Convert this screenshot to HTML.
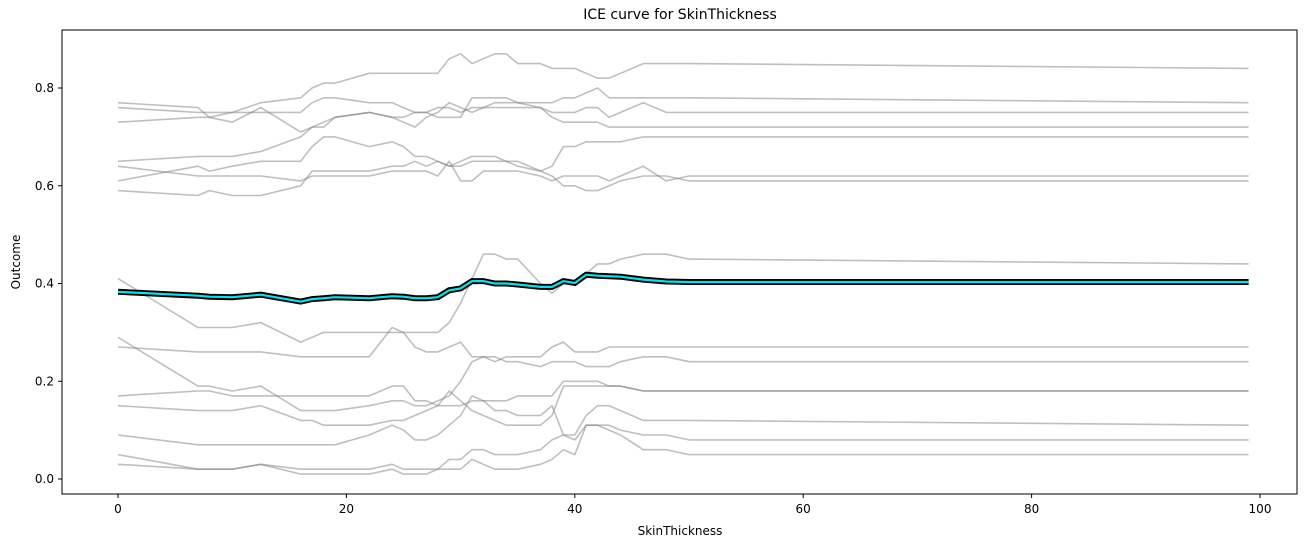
<!DOCTYPE html>
<html><head><meta charset="utf-8"><style>
body{margin:0;background:#fff;font-family:"Liberation Sans","DejaVu Sans",sans-serif;}
svg text{font-family:"DejaVu Sans","Liberation Sans",sans-serif;fill:#000;}
</style></head><body>
<svg id="chart" width="1314" height="547" xmlns="http://www.w3.org/2000/svg">
<rect x="0" y="0" width="1314" height="547" fill="#fff"/>
<text x="680" y="19" font-size="14" text-anchor="middle">ICE curve for SkinThickness</text>
<g id="lines"></g>
<g id="axes"></g>
<rect x="62" y="30" width="1235" height="464" fill="none" stroke="#000" stroke-width="1"/>
<text x="680" y="535" font-size="12" text-anchor="middle">SkinThickness</text>
<text x="20" y="262" font-size="12" text-anchor="middle" transform="rotate(-90 20 262)">Outcome</text>
</svg>
<script>
const xGrid=[0,7,8,10,12.5,16,17,18,19,22,24,25,26,27,28,29,30,31,32,33,34,35,37,38,39,40,41,42,43,44,46,48,50,99];
const lineA=[0.77,0.76,0.74,0.75,0.77,0.78,0.80,0.81,0.81,0.83,0.83,0.83,0.83,0.83,0.83,0.86,0.87,0.85,0.86,0.87,0.87,0.85,0.85,0.84,0.84,0.84,0.83,0.82,0.82,0.83,0.85,0.85,0.85,0.84];
const lineB=[0.76,0.75,0.75,0.75,0.75,0.75,0.77,0.78,0.78,0.77,0.77,0.76,0.75,0.75,0.74,0.74,0.74,0.78,0.78,0.78,0.78,0.77,0.77,0.77,0.78,0.78,0.79,0.80,0.78,0.78,0.78,0.78,0.78,0.77];
const lineC=[0.73,0.74,0.74,0.73,0.76,0.71,0.72,0.72,0.74,0.75,0.74,0.73,0.72,0.74,0.75,0.77,0.76,0.75,0.76,0.77,0.77,0.77,0.76,0.75,0.75,0.75,0.76,0.76,0.74,0.75,0.77,0.75,0.75,0.75];
const lineD=[0.65,0.66,0.66,0.66,0.67,0.70,0.72,0.73,0.74,0.75,0.74,0.74,0.75,0.75,0.76,0.76,0.75,0.76,0.76,0.76,0.76,0.76,0.76,0.74,0.73,0.73,0.73,0.73,0.72,0.72,0.72,0.72,0.72,0.72];
const lineE=[0.61,0.64,0.63,0.64,0.65,0.65,0.68,0.70,0.70,0.68,0.69,0.68,0.66,0.66,0.65,0.64,0.64,0.65,0.65,0.65,0.65,0.64,0.63,0.64,0.68,0.68,0.69,0.69,0.69,0.69,0.70,0.70,0.70,0.70];
const lineF=[0.64,0.62,0.62,0.62,0.62,0.61,0.62,0.62,0.62,0.62,0.63,0.63,0.63,0.63,0.62,0.65,0.61,0.61,0.63,0.63,0.63,0.63,0.62,0.61,0.62,0.62,0.62,0.62,0.61,0.62,0.64,0.61,0.62,0.62];
const lineG=[0.59,0.58,0.59,0.58,0.58,0.60,0.63,0.63,0.63,0.63,0.64,0.64,0.65,0.64,0.65,0.64,0.65,0.66,0.66,0.66,0.65,0.65,0.63,0.62,0.60,0.60,0.59,0.59,0.60,0.61,0.62,0.62,0.61,0.61];
const lineH=[0.41,0.31,0.31,0.31,0.32,0.28,0.29,0.30,0.30,0.30,0.30,0.30,0.30,0.30,0.30,0.32,0.36,0.41,0.46,0.46,0.45,0.45,0.40,0.38,0.40,0.40,0.42,0.44,0.44,0.45,0.46,0.46,0.45,0.44];
const lineI=[0.27,0.26,0.26,0.26,0.26,0.25,0.25,0.25,0.25,0.25,0.31,0.30,0.27,0.26,0.26,0.27,0.28,0.25,0.25,0.24,0.25,0.25,0.25,0.27,0.28,0.26,0.26,0.26,0.27,0.27,0.27,0.27,0.27,0.27];
const lineJ=[0.29,0.19,0.19,0.18,0.19,0.14,0.14,0.14,0.14,0.15,0.16,0.16,0.15,0.15,0.16,0.17,0.20,0.24,0.25,0.25,0.24,0.24,0.23,0.24,0.24,0.24,0.23,0.23,0.23,0.24,0.25,0.25,0.24,0.24];
const lineK=[0.17,0.18,0.18,0.17,0.17,0.17,0.17,0.17,0.17,0.17,0.19,0.19,0.16,0.16,0.15,0.15,0.15,0.16,0.16,0.16,0.16,0.17,0.17,0.17,0.20,0.20,0.20,0.20,0.19,0.19,0.18,0.18,0.18,0.18];
const lineL=[0.15,0.14,0.14,0.14,0.15,0.12,0.12,0.11,0.11,0.11,0.12,0.12,0.13,0.14,0.15,0.18,0.16,0.14,0.13,0.12,0.11,0.11,0.11,0.13,0.19,0.19,0.19,0.19,0.19,0.19,0.18,0.18,0.18,0.18];
const lineM=[0.09,0.07,0.07,0.07,0.07,0.07,0.07,0.07,0.07,0.09,0.11,0.10,0.08,0.08,0.09,0.11,0.13,0.17,0.16,0.14,0.14,0.13,0.13,0.15,0.09,0.09,0.13,0.15,0.15,0.14,0.12,0.12,0.12,0.11];
const lineN=[0.05,0.02,0.02,0.02,0.03,0.02,0.02,0.02,0.02,0.02,0.03,0.02,0.02,0.02,0.02,0.04,0.04,0.06,0.06,0.05,0.05,0.05,0.06,0.08,0.09,0.08,0.11,0.11,0.11,0.10,0.09,0.09,0.08,0.08];
const lineO=[0.03,0.02,0.02,0.02,0.03,0.01,0.01,0.01,0.01,0.01,0.02,0.01,0.01,0.01,0.02,0.02,0.02,0.04,0.03,0.02,0.02,0.02,0.03,0.04,0.06,0.05,0.11,0.11,0.10,0.09,0.06,0.06,0.05,0.05];
const meanLine=[0.383,0.375,0.373,0.372,0.377,0.363,0.368,0.370,0.372,0.370,0.374,0.373,0.370,0.370,0.372,0.386,0.390,0.405,0.405,0.400,0.400,0.398,0.393,0.393,0.405,0.401,0.418,0.416,0.415,0.414,0.408,0.404,0.403,0.403];
const xTicks=[0,20,40,60,80,100];
const yTicks=[0.0,0.2,0.4,0.6,0.8];

const NS='http://www.w3.org/2000/svg';
function xs(v){return 118+(v/100)*1142;}
function ys(v){return 479-v*488.75;}
function mk(tag,attrs,parent){const e=document.createElementNS(NS,tag);for(const k in attrs)e.setAttribute(k,attrs[k]);parent.appendChild(e);return e;}
function pts(arr){return arr.map((v,i)=>xs(xGrid[i]).toFixed(1)+','+ys(v).toFixed(1)).join(' ');}
const g=document.getElementById('lines');
const all=[lineA,lineB,lineC,lineD,lineE,lineF,lineG,lineH,lineI,lineJ,lineK,lineL,lineM,lineN,lineO];
all.forEach((arr,i)=>{
  const p=mk('polyline',{points:pts(arr),fill:'none',stroke:'rgba(128,128,128,0.5)','stroke-width':1.6,'stroke-linejoin':'round'},g);
  
  
});
const mb=mk('polyline',{points:pts(meanLine),fill:'none',stroke:'#000','stroke-width':6,'stroke-linejoin':'miter'},g);


const mc=mk('polyline',{points:pts(meanLine),fill:'none',stroke:'#00e5ee','stroke-width':2.2},g);


const ax=document.getElementById('axes');
xTicks.forEach(t=>{
  const l=mk('line',{x1:xs(t),x2:xs(t),y1:494,y2:498,stroke:'#000'},ax);
  
  
  const tx=mk('text',{x:xs(t),y:513,'font-size':12,'text-anchor':'middle'},ax);
  tx.textContent=t;
  
  
});
yTicks.forEach(t=>{
  const l=mk('line',{x1:58,x2:62,y1:ys(t),y2:ys(t),stroke:'#000'},ax);
  
  
  const tx=mk('text',{x:54,y:ys(t)+4,'font-size':12,'text-anchor':'end'},ax);
  tx.textContent=t.toFixed(1);
  
  
});
</script>
</body></html>
